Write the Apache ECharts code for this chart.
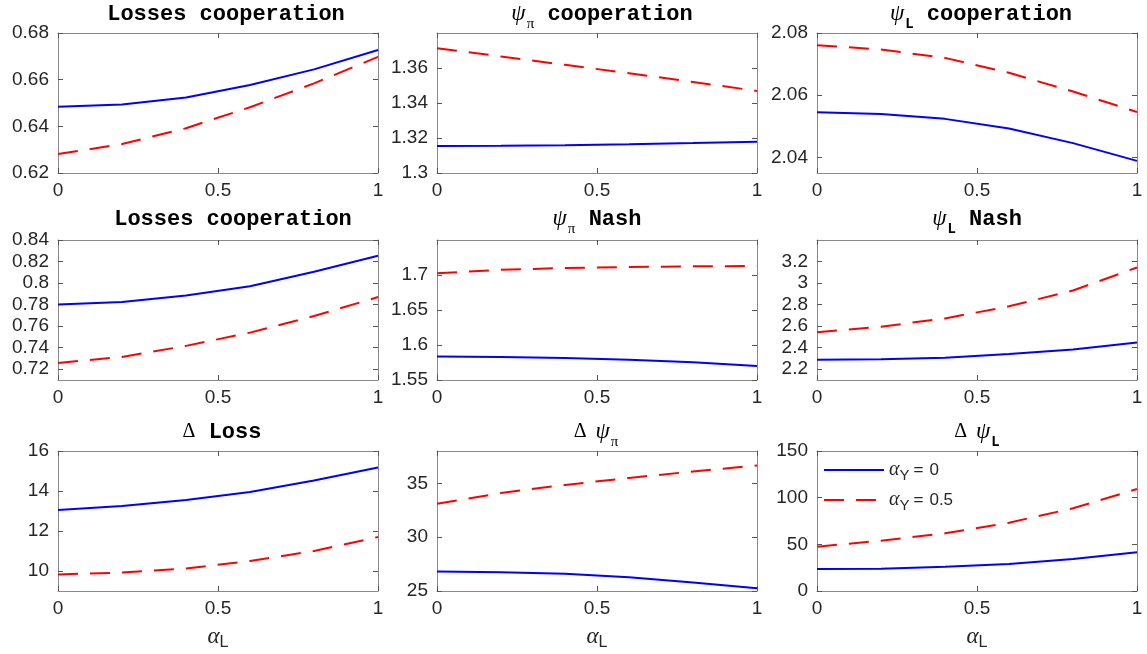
<!DOCTYPE html>
<html><head><meta charset="utf-8">
<script src="https://cdn.jsdelivr.net/npm/echarts@6/dist/echarts.min.js"></script>
<style>html,body{margin:0;padding:0;background:#fff}#c{width:1147px;height:654px}</style>
</head><body><div id="c"></div>
<script>
// ---- data ----
const alphaL = [0, 0.2, 0.4, 0.6, 0.8, 1];
const xTicks = [0, 0.5, 1];
const seriesNames = ['αY = 0', 'αY = 0.5'];
const legendValues = ['0', '0.5'];

const lossCoopAY0 = [0.6484, 0.6494, 0.6524, 0.6577, 0.6644, 0.6727];
const lossCoopAY5 = [0.6281, 0.6324, 0.6392, 0.6482, 0.6584, 0.6698];
const psiPiCoopY0 = [1.3154, 1.3156, 1.3159, 1.3164, 1.3171, 1.3179];
const psiPiCoopY5 = [1.3713, 1.3666, 1.3618, 1.3570, 1.3520, 1.3469];
const psiLCoopY0 = [2.0545, 2.0540, 2.0524, 2.0493, 2.0446, 2.0389];
const psiLCoopY5 = [2.0761, 2.0747, 2.0720, 2.0672, 2.0612, 2.0546];
const lossCoopBY0 = [0.7800, 0.7824, 0.7885, 0.7971, 0.8105, 0.8253];
const lossCoopBY5 = [0.7258, 0.7314, 0.7417, 0.7540, 0.7694, 0.7870];
const psiPiNashY0 = [1.5834, 1.5828, 1.5815, 1.5790, 1.5752, 1.5700];
const psiPiNashY5 = [1.7024, 1.7075, 1.7100, 1.7115, 1.7124, 1.7129];
const psiLNashY0 = [2.289, 2.293, 2.307, 2.341, 2.383, 2.448];
const psiLNashY5 = [2.543, 2.595, 2.672, 2.784, 2.931, 3.145];
const dLossY0 = [13.05, 13.25, 13.55, 13.95, 14.53, 15.17];
const dLossY5 = [9.83, 9.92, 10.12, 10.50, 11.00, 11.70];
const dPsiPiY0 = [26.80, 26.75, 26.60, 26.28, 25.80, 25.25];
const dPsiPiY5 = [33.10, 34.10, 34.85, 35.50, 36.10, 36.65];
const dPsiLY0 = [23.6, 23.9, 26.0, 29.0, 34.3, 41.5];
const dPsiLY5 = [47.5, 53.9, 61.8, 73.2, 88.6, 109.3];

const yTicks1 = [0.62, 0.64, 0.66, 0.68];
const yTicks2 = [1.3, 1.32, 1.34, 1.36];
const yTicks3 = [2.04, 2.06, 2.08];
const yTicks4 = [0.72, 0.74, 0.76, 0.78, 0.8, 0.82, 0.84];
const yTicks5 = [1.55, 1.6, 1.65, 1.7];
const yTicks6 = [2.2, 2.4, 2.6, 2.8, 3, 3.2];
const yTicks7 = [10, 12, 14, 16];
const yTicks8 = [25, 30, 35];
const yTicks9 = [0, 50, 100, 150];

const yRanges = [[0.62, 0.68], [1.30, 1.38], [2.035, 2.08], [0.71, 0.84], [1.55, 1.75], [2.1, 3.4], [9, 16], [25, 38], [0, 150]];

const titles = [
  '{b|Losses cooperation}',
  '{psi|ψ}{sp|π}{b| cooperation}',
  '{psi|ψ}{sl|L}{b| cooperation}',
  '{b|Losses cooperation}',
  '{psi|ψ}{sp|π}{b| Nash}',
  '{psi|ψ}{sl|L}{b| Nash}',
  '{d|Δ}{b| Loss}',
  '{d|Δ}{psi2|ψ}{sp|π}',
  '{d|Δ}{psi2|ψ}{sl|L}'
];

const panels = [
  [lossCoopAY0, lossCoopAY5, yTicks1],
  [psiPiCoopY0, psiPiCoopY5, yTicks2],
  [psiLCoopY0, psiLCoopY5, yTicks3],
  [lossCoopBY0, lossCoopBY5, yTicks4],
  [psiPiNashY0, psiPiNashY5, yTicks5],
  [psiLNashY0, psiLNashY5, yTicks6],
  [dLossY0, dLossY5, yTicks7],
  [dPsiPiY0, dPsiPiY5, yTicks8],
  [dPsiLY0, dPsiLY5, yTicks9]
];

// ---- layout ----
const colLeft = [58, 437, 817];
const rowTop = [33, 240, 451];
const W = 320, H = 140;
const titleX = [226, 602, 981, 233, 597, 977, 222, 596, 977];
const titleY = [14, 14, 14, 219, 219, 219, 432, 432, 432];

const boxColor = '#8a8a8a';
const tickColor = '#555555';
const textColor = '#262626';
const tickFont = 'Liberation Sans, Arial, sans-serif';
const serif = 'Liberation Serif, Times New Roman, serif';
const mono = 'Liberation Mono, Courier New, monospace';
const fmt = v => String(parseFloat(Number(v).toFixed(4)));

const titleRich = {
  b: {fontFamily: mono, fontWeight: 'bold', fontSize: 22, color: '#000'},
  psi: {fontFamily: serif, fontStyle: 'italic', fontWeight: 'normal', fontSize: 23, color: '#000'},
  psi2: {fontFamily: serif, fontStyle: 'italic', fontWeight: 'normal', fontSize: 23, color: '#000', padding: [0, 0, 0, 9]},
  sp: {fontFamily: serif, fontWeight: 'normal', fontSize: 15, color: '#000', padding: [20, 0, 0, 1]},
  sl: {fontFamily: mono, fontWeight: 'bold', fontSize: 14, color: '#000', padding: [20, 0, 0, 1]},
  d: {fontFamily: serif, fontWeight: 'normal', fontSize: 20, color: '#000'}
};

const grid = [], xAxis = [], yAxis = [], series = [], title = [];
panels.forEach((p, i) => {
  const r = Math.floor(i / 3), c = i % 3;
  grid.push({left: colLeft[c], top: rowTop[r], width: W, height: H, containLabel: false});
  const bottomRow = r === 2;
  xAxis.push({
    gridIndex: i, type: 'value', min: 0, max: 1, position: 'bottom',
    axisLine: {show: true, onZero: false, lineStyle: {color: boxColor, width: 1}},
    axisTick: {show: true, inside: true, length: 5, customValues: xTicks, lineStyle: {color: tickColor}},
    axisLabel: {customValues: xTicks, margin: 8, color: textColor, fontSize: 19, fontFamily: tickFont, formatter: fmt},
    splitLine: {show: false},
    name: bottomRow ? '{a|α}{l|L}' : '',
    nameLocation: 'middle', nameGap: 32,
    nameTextStyle: {rich: {
      a: {fontFamily: serif, fontStyle: 'italic', fontSize: 23, color: textColor},
      l: {fontFamily: tickFont, fontSize: 16, color: textColor, padding: [12, 0, 0, 0]}
    }}
  });
  xAxis.push({
    gridIndex: i, type: 'value', min: 0, max: 1, position: 'top',
    axisLine: {show: true, onZero: false, lineStyle: {color: boxColor, width: 1}},
    axisTick: {show: true, inside: true, length: 5, customValues: xTicks, lineStyle: {color: tickColor}},
    axisLabel: {show: false}, splitLine: {show: false}
  });
  yAxis.push({
    gridIndex: i, type: 'value', min: yRanges[i][0], max: yRanges[i][1], position: 'left',
    axisLine: {show: true, onZero: false, lineStyle: {color: boxColor, width: 1}},
    axisTick: {show: true, inside: true, length: 5, customValues: p[2], lineStyle: {color: tickColor}},
    axisLabel: {customValues: p[2], margin: 9, color: textColor, fontSize: 19, fontFamily: tickFont, formatter: fmt},
    splitLine: {show: false}
  });
  yAxis.push({
    gridIndex: i, type: 'value', min: yRanges[i][0], max: yRanges[i][1], position: 'right',
    axisLine: {show: true, onZero: false, lineStyle: {color: boxColor, width: 1}},
    axisTick: {show: true, inside: true, length: 5, customValues: p[2], lineStyle: {color: tickColor}},
    axisLabel: {show: false}, splitLine: {show: false}
  });
  series.push({
    name: seriesNames[0], type: 'line', xAxisIndex: 2 * i, yAxisIndex: 2 * i,
    data: alphaL.map((x, k) => [x, p[0][k]]), symbol: 'none', smooth: false,
    lineStyle: {color: '#0000ff', width: 2, type: 'solid'}, itemStyle: {color: '#0000ff'}, z: 3
  });
  series.push({
    name: seriesNames[1], type: 'line', xAxisIndex: 2 * i, yAxisIndex: 2 * i,
    data: alphaL.map((x, k) => [x, p[1][k]]), symbol: 'none', smooth: false,
    lineStyle: {color: '#ff0000', width: 2, type: [20, 12]}, itemStyle: {color: '#ff0000'}, z: 2
  });
  title.push({
    text: titles[i], left: titleX[i], top: titleY[i], textAlign: 'center', textVerticalAlign: 'middle',
    padding: 0, textStyle: {rich: titleRich}
  });
});

const option = {
  animation: false,
  backgroundColor: '#ffffff',
  title: title,
  grid: grid, xAxis: xAxis, yAxis: yAxis, series: series,
  legend: {
    data: seriesNames, orient: 'vertical', left: 823, top: 460, padding: 0,
    itemWidth: 60, itemHeight: 14, itemGap: 7, selectedMode: false,
    itemStyle: {color: 'rgba(0,0,0,0)', borderColor: 'rgba(0,0,0,0)', borderWidth: 0},
    formatter: n => '{a|α}{y|Y}{e|=}{t|' + legendValues[seriesNames.indexOf(n)] + '}',
    textStyle: {color: textColor, rich: {
      a: {fontFamily: serif, fontStyle: 'italic', fontSize: 20, color: textColor},
      y: {fontFamily: tickFont, fontSize: 15, color: textColor, padding: [11, 0, 0, 0]},
      e: {fontFamily: tickFont, fontSize: 17, color: textColor, padding: [0, 6, 0, 4]},
      t: {fontFamily: tickFont, fontSize: 17, color: textColor}
    }}
  }
};
const chart = echarts.init(document.getElementById('c'), null, {renderer: 'canvas'});
chart.setOption(option);
</script>
</body></html>
